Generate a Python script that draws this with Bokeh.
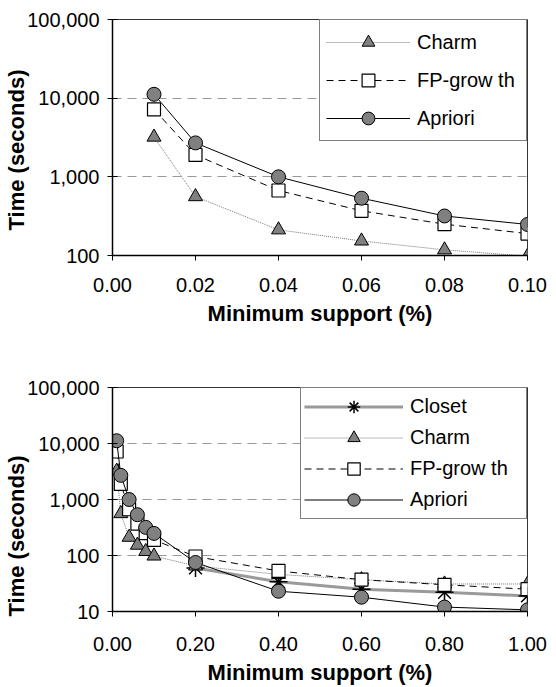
from bokeh.plotting import figure
from bokeh.layouts import column
from bokeh.models import (FixedTicker, NumeralTickFormatter, Legend, LegendItem, Title, Range1d)
from bokeh.embed import file_html
from bokeh.resources import INLINE

# ---------------- data ----------------
support_top = [0.01, 0.02, 0.04, 0.06, 0.08, 0.10]
charm_top = [3200, 560, 212, 153, 118, 98]
fpgrowth_top = [7200, 1900, 670, 370, 250, 190]
apriori_top = [11200, 2700, 1000, 535, 318, 248]

support_bot = [0.01, 0.02, 0.04, 0.06, 0.08, 0.10, 0.20, 0.40, 0.60, 0.80, 1.00]
charm_bot = [3200, 560, 212, 153, 118, 98, 65, 46, 37, 31, 31]
fpgrowth_bot = [7200, 1900, 670, 370, 250, 190, 96, 53, 37, 30, 25]
apriori_bot = [11200, 2700, 1000, 535, 318, 248, 75, 23, 18, 12, 10.7]
support_closet = [0.20, 0.40, 0.60, 0.80, 1.00]
closet_bot = [60, 34, 25, 22, 19]

xticks_top = [0.0, 0.02, 0.04, 0.06, 0.08, 0.10]
xticks_bot = [0.0, 0.2, 0.4, 0.6, 0.8, 1.0]
yticks_top = [100, 1000, 10000, 100000]
yticks_bot = [10, 100, 1000, 10000, 100000]

FONT = "Liberation Sans"
GREY = "#808080"


def style(p, xticks, yticks, tick_standoff, label_standoff):
    p.xaxis.ticker = FixedTicker(ticks=xticks)
    p.yaxis.ticker = FixedTicker(ticks=yticks)
    p.xaxis.formatter = NumeralTickFormatter(format="0.00")
    p.yaxis.formatter = NumeralTickFormatter(format="0,0")
    p.xaxis.minor_tick_line_color = None
    p.yaxis.minor_tick_line_color = None
    for ax in (p.xaxis, p.yaxis):
        ax.axis_line_color = "black"
        ax.axis_line_width = 1.5
        ax.major_tick_line_color = "black"
        ax.major_tick_line_width = 1
        ax.major_label_text_font = FONT
        ax.major_label_text_font_size = "20px"
        ax.major_label_text_color = "black"
        ax.axis_label_text_font = FONT
        ax.axis_label_text_font_size = "22px"
        ax.axis_label_text_font_style = "bold"
        ax.axis_label_text_color = "black"
    p.xaxis.major_tick_in = 0
    p.xaxis.major_tick_out = 5
    p.yaxis.major_tick_in = 5
    p.yaxis.major_tick_out = 5
    p.xaxis.major_label_standoff = tick_standoff
    p.yaxis.major_label_standoff = 8
    p.xaxis.axis_label_standoff = label_standoff
    p.xaxis.axis_label = "Minimum support (%)"
    p.xgrid.grid_line_color = None
    p.ygrid.ticker = FixedTicker(ticks=yticks)
    p.ygrid.grid_line_color = "#999999"
    p.ygrid.grid_line_dash = "9 6"
    p.ygrid.grid_line_width = 1
    p.outline_line_color = "#333333"
    p.outline_line_width = 1
    p.background_fill_color = "white"
    p.border_fill_color = "white"


def make_fig(height, top, bottom, xr, yr):
    p = figure(width=556, height=height, y_axis_type="log", x_range=xr, y_range=yr,
               output_backend="svg", toolbar_location=None,
               min_border_left=112, min_border_right=29,
               min_border_top=top, min_border_bottom=bottom)
    return p


def ylabel(p, offset):
    p.add_layout(Title(text="Time (seconds)", align="left", offset=offset, standoff=-8,
                       text_font=FONT, text_font_size="22px", text_font_style="bold",
                       text_color="black"), "left")


# ---------------- top chart ----------------
p1 = make_fig(335, 19, 80, Range1d(0, 0.10), Range1d(100, 100000))
style(p1, xticks_top, yticks_top, 17, 6)

r_ch_l = p1.line(support_top, charm_top, line_color="#777777", line_width=1, line_dash="1 1")
r_ch_m = p1.scatter(support_top, charm_top, marker="triangle", size=14, fill_color=GREY, line_color="black")
r_fp_l = p1.line(support_top, fpgrowth_top, line_color="black", line_width=1, line_dash="7 5")
r_fp_m = p1.scatter(support_top, fpgrowth_top, marker="square", size=13, fill_color="white", line_color="black", line_width=1.2)
r_ap_l = p1.line(support_top, apriori_top, line_color="black", line_width=1)
r_ap_m = p1.scatter(support_top, apriori_top, marker="circle", size=14, fill_color=GREY, line_color="black")

leg1 = Legend(items=[LegendItem(label="Charm", renderers=[r_ch_l, r_ch_m]),
                     LegendItem(label="FP-grow th", renderers=[r_fp_l, r_fp_m]),
                     LegendItem(label="Apriori", renderers=[r_ap_l, r_ap_m])],
              location="top_right", margin=0, padding=6, spacing=6,
              glyph_width=84, glyph_height=32, label_standoff=7, label_width=103,
              label_text_font=FONT, label_text_font_size="20px", label_text_color="black",
              border_line_color="black", border_line_width=1,
              background_fill_color="white", background_fill_alpha=1)
p1.add_layout(leg1)
ylabel(p1, 25)

# ---------------- bottom chart ----------------
p2 = make_fig(352, 52, 75, Range1d(0, 1.0), Range1d(10, 100000))
style(p2, xticks_bot, yticks_bot, 20, 6)

r_cl_l = p2.line(support_closet, closet_bot, line_color="#9a9a9a", line_width=3)
r_cl_m = p2.scatter(support_closet, closet_bot, marker="asterisk", size=18, line_color="black", line_width=1.5)
r2_ch_l = p2.line(support_bot, charm_bot, line_color="#777777", line_width=1, line_dash="1 1")
r2_ch_m = p2.scatter(support_bot, charm_bot, marker="triangle", size=14, fill_color=GREY, line_color="black")
r2_fp_l = p2.line(support_bot, fpgrowth_bot, line_color="black", line_width=1, line_dash="7 5")
r2_fp_m = p2.scatter(support_bot, fpgrowth_bot, marker="square", size=13, fill_color="white", line_color="black", line_width=1.2)
r2_ap_l = p2.line(support_bot, apriori_bot, line_color="black", line_width=1)
r2_ap_m = p2.scatter(support_bot, apriori_bot, marker="circle", size=14, fill_color=GREY, line_color="black")

leg2 = Legend(items=[LegendItem(label="Closet", renderers=[r_cl_l, r_cl_m]),
                     LegendItem(label="Charm", renderers=[r2_ch_l, r2_ch_m]),
                     LegendItem(label="FP-grow th", renderers=[r2_fp_l, r2_fp_m]),
                     LegendItem(label="Apriori", renderers=[r2_ap_l, r2_ap_m])],
              location="top_right", margin=0, padding=3, spacing=0,
              glyph_width=99, glyph_height=31, label_standoff=7, label_width=113,
              label_text_font=FONT, label_text_font_size="20px", label_text_color="black",
              border_line_color="black", border_line_width=1,
              background_fill_color="white", background_fill_alpha=1)
p2.add_layout(leg2)
ylabel(p2, -5)

layout = column(p1, p2, spacing=0)
open("out.html", "w").write(file_html(layout, INLINE))
